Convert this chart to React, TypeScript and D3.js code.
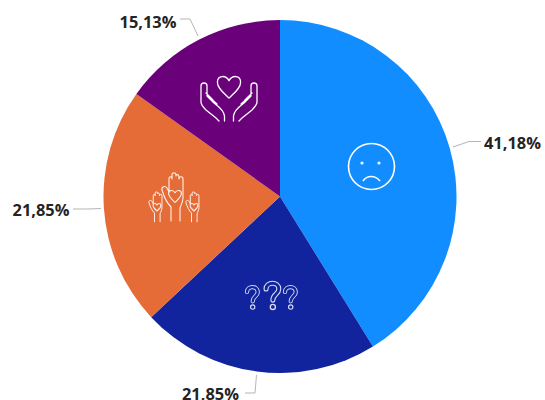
import React from "react";
import * as d3 from "d3";

const values = [41.18, 21.85, 21.85, 15.13];
const labels = ["41,18%", "21,85%", "21,85%", "15,13%"];
const colors = ["#118dff", "#12239e", "#e66c37", "#6b007b"];

const cx = 280, cy = 196.5, r = 176.5;

const leaderLines = [
  "M453,147 L469,141.5 L481,141.5",
  "M256.5,375 L255,393 L245,393",
  "M101,208.5 L88,209 L73,209",
  "M198,36 L190,19 L180,19",
];
const labelPos: [number, number, string][] = [
  [484, 149, "start"],
  [69.5, 216, "end"],
  [182, 400, "start"],
  [176.5, 28, "end"],
];
const labelOrder = [0, 2, 1, 3];

const hand = "M207,86 C207,82 201,82 201,86 L201,102 C201,105 203,107 206,110 L216,118 L219,121 M207,86 L207,96 L214,103 C218,106 224,110 224.5,116 L224.5,121 M209,97 L217,104 M206,93 L213,100";
const smallHand = "M-4,48 L-4,34 C-8,30 -11,24 -13,17 C-14,14 -10,12 -8,15 L-6,19 L-6,6 C-6,3 -3,3 -3,6 L-3,2 C-3,-1 1,-1 1,2 L1,3 C1,1 4,1 4,4 L4,6 C4,3 8,3 8,6 L8,25 C8,29 6,32 5,35 L5,48";
const heart = (x: number, y: number, s: number) =>
  `M${x},${y + 8 * s} C${x - 4 * s},${y + 4 * s} ${x - 8 * s},${y + 1 * s} ${x - 8 * s},${y - 3 * s} C${x - 8 * s},${y - 8 * s} ${x - 2 * s},${y - 8 * s} ${x},${y - 4 * s} C${x + 2 * s},${y - 8 * s} ${x + 8 * s},${y - 8 * s} ${x + 8 * s},${y - 3 * s} C${x + 8 * s},${y + 1 * s} ${x + 4 * s},${y + 4 * s} ${x},${y + 8 * s} Z`;
const question = "M-7,-7 C-7,-16 8,-16 8,-7 C8,-1 1,-1 1,6";

export default function App() {
  const arcs = d3.pie<number>().sort(null)(values);
  const arc = d3.arc<d3.PieArcDatum<number>>().innerRadius(0).outerRadius(r);
  return (
    <svg width={545} height={400} style={{ position: "absolute", left: 0, top: 0, background: "#fff" }}>
      <g transform={`translate(${cx},${cy})`}>
        {arcs.map((a, i) => (
          <path key={i} d={arc(a) ?? ""} fill={colors[i]} />
        ))}
      </g>
      {leaderLines.map((d, i) => (
        <path key={i} d={d} fill="none" stroke="#b5b5b5" strokeWidth={1} />
      ))}
      {labelOrder.map((li, i) => (
        <text key={i} x={labelPos[i][0]} y={labelPos[i][1]} textAnchor={labelPos[i][2] as any}
          fontFamily="'Open Sans', sans-serif" fontWeight={700} fontSize={16.4} fill="#252423">
          {labels[li]}
        </text>
      ))}
      {/* sad face */}
      <g fill="none" stroke="#fff" strokeWidth={1.6}>
        <circle cx={371.5} cy={166.5} r={23} />
        <path d="M363,181 C367,175 375,175 380,181" />
      </g>
      <circle cx={362} cy={163} r={1.6} fill="#fff" />
      <circle cx={379} cy={163} r={1.6} fill="#fff" />
      {/* question marks */}
      {[[252, 297, 0.72], [272, 295, 0.85], [290, 297, 0.72]].map(([x, y, s], i) => (
        <g key={i} transform={`translate(${x},${y}) scale(${s})`} fill="none" strokeLinecap="round">
          <path d={question} stroke="#d5dbf2" strokeWidth={6} />
          <circle cx={1} cy={14} r={3} stroke="#d5dbf2" strokeWidth={1.6} />
          <path d={question} stroke="#12239e" strokeWidth={3.4} />
        </g>
      ))}
      {/* caring hands */}
      <g fill="none" stroke="#fff" strokeWidth={1.3} strokeLinecap="round" strokeLinejoin="round">
        <path d={heart(229, 86.5, 1.45)} />
        <path d={hand} />
        <path d={hand} transform="translate(458,0) scale(-1,1)" />
      </g>
      {/* raised hands */}
      <g fill="none" stroke="#fff" strokeWidth={1.1} strokeLinecap="round" strokeLinejoin="round" opacity={0.9}>
        <path d={smallHand} transform="translate(175,173)" />
        <path d={heart(175, 196, 0.8)} />
        <path d={smallHand} transform="translate(157,192) scale(0.62)" strokeWidth={1.6} />
        <path d={heart(157, 207, 0.5)} />
        <path d={smallHand} transform="translate(194,192) scale(0.62)" strokeWidth={1.6} />
        <path d={heart(194, 207, 0.5)} />
      </g>
    </svg>
  );
}
